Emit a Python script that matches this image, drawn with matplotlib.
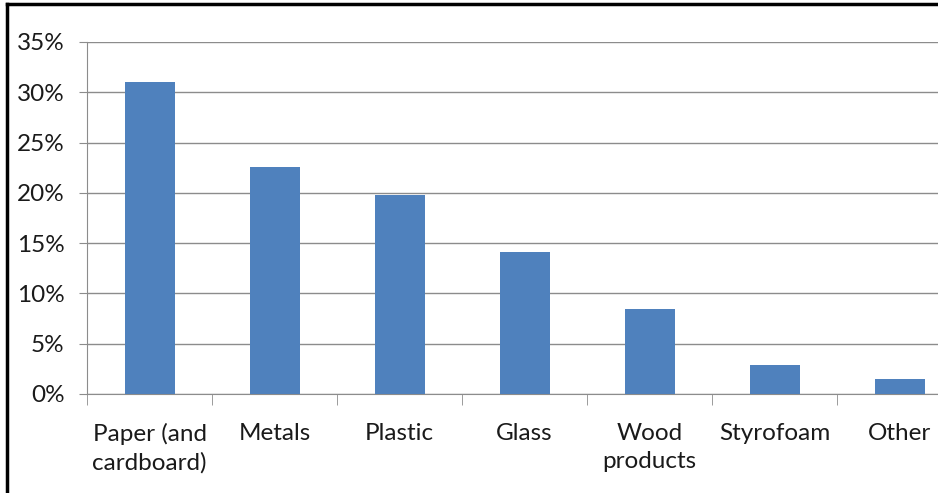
import matplotlib
matplotlib.use("Agg")
import matplotlib.pyplot as plt
from matplotlib.lines import Line2D
from matplotlib.ticker import FixedLocator, NullFormatter

categories = ["Paper (and\ncardboard)", "Metals", "Plastic", "Glass", "Wood\nproducts", "Styrofoam", "Other"]
values = [31.0, 22.6, 19.8, 14.1, 8.5, 2.9, 1.5]
yticks = [0, 5, 10, 15, 20, 25, 30, 35]
ytick_labels = ["0%", "5%", "10%", "15%", "20%", "25%", "30%", "35%"]

W, H = 938, 493
fig = plt.figure(figsize=(W / 100, H / 100), dpi=100)
plt.rcParams['font.family'] = ['Lato', 'DejaVu Sans']

left_px, right_px, top_px, bot_px = 87, 962, 42, 394
ax = fig.add_axes([left_px / W, (H - bot_px) / H, (right_px - left_px) / W, (bot_px - top_px) / H])

x = list(range(len(categories)))
ax.bar(x, values, width=0.4, color="#4F81BD", zorder=3)
ax.set_xlim(-0.5, len(categories) - 0.5)
ax.set_ylim(0, 35)

ax.set_yticks(yticks)
ax.set_yticklabels(ytick_labels, fontsize=17.5, color="#1a1a1a")
ax.grid(axis="y", color="#8c8c8c", linewidth=1, zorder=0)

ax.set_xticks(x)
ax.set_xticklabels(categories, fontsize=17.5, color="#1a1a1a", linespacing=1.4)
ax.tick_params(axis="x", which="major", length=0, pad=21)
ax.xaxis.set_minor_locator(FixedLocator([i - 0.5 for i in range(len(categories) + 1)]))
ax.xaxis.set_minor_formatter(NullFormatter())
ax.tick_params(axis="x", which="minor", length=8, color="#8c8c8c", direction="out")
ax.tick_params(axis="y", length=6, color="#8c8c8c", pad=10)

for s in ["top", "right"]:
    ax.spines[s].set_visible(False)
ax.spines["left"].set_color("#8c8c8c")
ax.spines["bottom"].set_color("#8c8c8c")

# outer frame (chart border, cropped)
fig.add_artist(Line2D([7 / W, 1], [1 - 4 / H, 1 - 4 / H], color="black", linewidth=2.5, transform=fig.transFigure))
fig.add_artist(Line2D([7 / W, 7 / W], [0, 1 - 4 / H], color="black", linewidth=2.5, transform=fig.transFigure))

fig.savefig("out.png", dpi=100)
